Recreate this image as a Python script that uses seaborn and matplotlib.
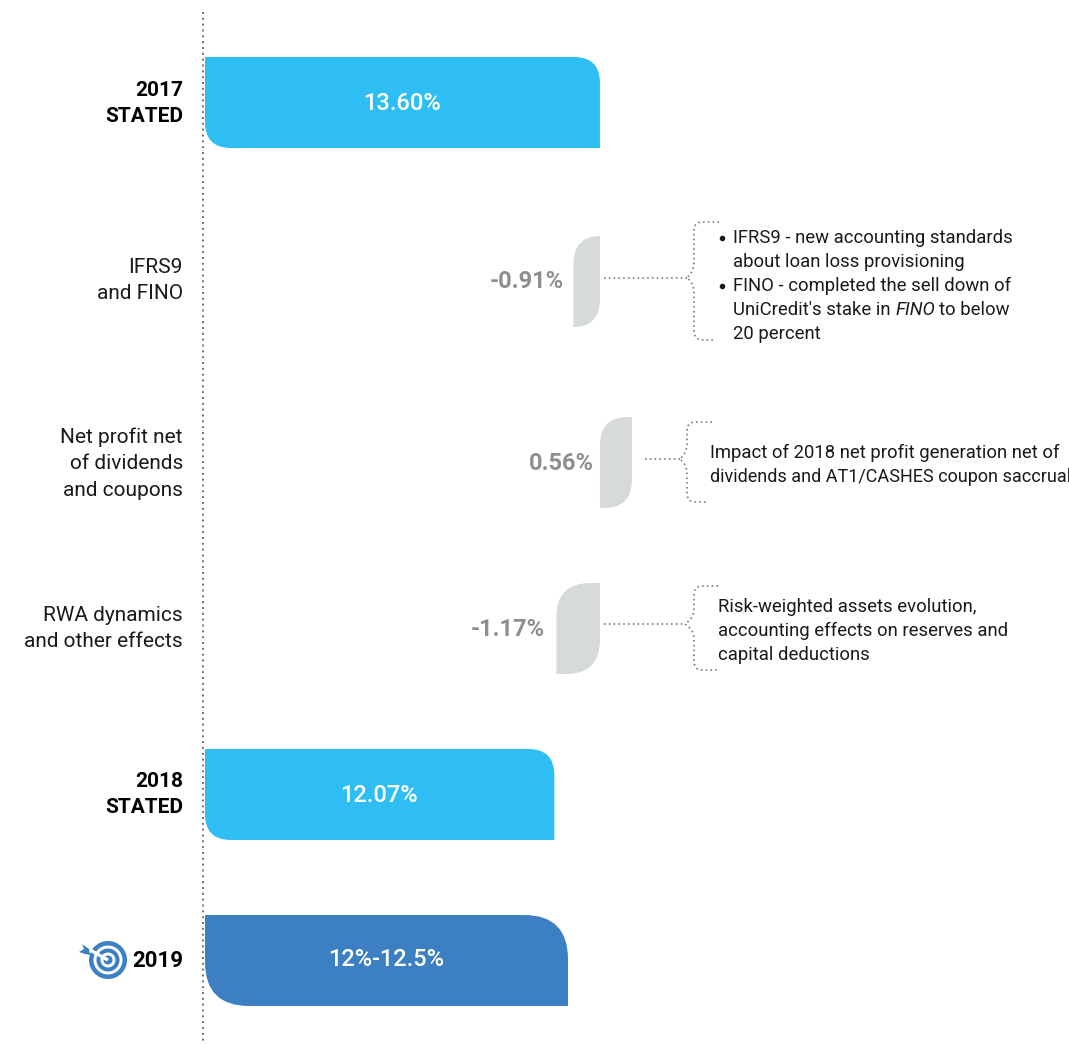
import matplotlib
matplotlib.use("Agg")
import matplotlib.pyplot as plt
import seaborn as sns
from matplotlib.path import Path
from matplotlib.patches import PathPatch, Circle, Polygon

categories = ["2017\nSTATED", "IFRS9\nand FINO", "Net profit net\nof dividends\nand coupons",
              "RWA dynamics\nand other effects", "2018\nSTATED", "2019"]
drawn_extent = [13.60, -0.91, 1.10, -1.50, 12.03, 12.50]
anchors = [0, 13.60, 13.60, 13.60, 0, 0]
value_labels = ["13.60%", "-0.91%", "0.56%", "-1.17%", "12.07%", "12%-12.5%"]
colors = ["#2FBEF3", "#D6DADB", "#D6DADB", "#D6DADB", "#2FBEF3", "#3C7FC3"]
note_1 = ["IFRS9 - new accounting standards", "about loan loss provisioning",
          "FINO - completed the sell down of", "20 percent"]
note_2 = ["Impact of 2018 net profit generation net of", "dividends and AT1/CASHES coupon saccrual"]
note_3 = ["Risk-weighted assets evolution,", "accounting effects on reserves and", "capital deductions"]

W, H = 1069, 1044
FONT = "Roboto"
PX_PER_UNIT = 29.04
sns.set_theme(style="white")
plt.rcParams["font.family"] = [FONT, "DejaVu Sans"]

rows = [102.5, 281.5, 462.5, 628.5, 794.5, 960.5]
tick_shift = [-5, -6.5, -4.5, -5.5, -5.5, -2]
radii = [26, 28, 28, 34, 26, 44]
fig = plt.figure(figsize=(W / 100, H / 100), dpi=100, facecolor="white")
ax = fig.add_axes([205 / W, 0, 1 - 205 / W, 1])
sns.barplot(x=drawn_extent, y=rows, hue=categories, hue_order=categories,
            palette=colors, saturation=1, orient="y", native_scale=True,
            width=91 / 166, legend=False, ax=ax)
ax.set_xlim(0, (W - 205) / PX_PER_UNIT)
ax.set_ylim(H, 0)
ax.set_xlabel("")
ax.set_ylabel("")
ax.set_xticks([])
ax.set_yticks([r + s for r, s in zip(rows, tick_shift)])
ax.set_yticklabels(categories, fontsize=15, color="#1a1a1a", linespacing=1.48)
ax.tick_params(axis="y", length=0, pad=16)
for i, lab in enumerate(ax.get_yticklabels()):
    if i in (0, 4, 5):
        lab.set_fontweight("bold")
        lab.set_color("black")
    if i == 5:
        lab.set_fontsize(16)
sns.despine(ax=ax, left=True, bottom=True)


def rounded(x0, x1, y0, y1, r, down_diag):
    """Rectangle with two opposite corners rounded. y grows downward."""
    rx = r / PX_PER_UNIT
    rx = min(rx, (x1 - x0))
    if down_diag:  # top-left and bottom-right rounded
        v = [(x0 + rx, y0), (x1, y0), (x1, y1 - r), (x1, y1), (x1 - rx, y1),
             (x0, y1), (x0, y0 + r), (x0, y0), (x0 + rx, y0), (x0 + rx, y0)]
        c = [Path.MOVETO, Path.LINETO, Path.LINETO, Path.CURVE3, Path.CURVE3,
             Path.LINETO, Path.LINETO, Path.CURVE3, Path.CURVE3, Path.CLOSEPOLY]
    else:  # top-right and bottom-left rounded
        v = [(x0, y0), (x1 - rx, y0), (x1, y0), (x1, y0 + r), (x1, y1),
             (x0 + rx, y1), (x0, y1), (x0, y1 - r), (x0, y0), (x0, y0)]
        c = [Path.MOVETO, Path.LINETO, Path.CURVE3, Path.CURVE3, Path.LINETO,
             Path.LINETO, Path.CURVE3, Path.CURVE3, Path.LINETO, Path.CLOSEPOLY]
    return Path(v, c)


bars = list(ax.patches)
for bar, base, r, col in zip(bars, anchors, radii, colors):
    w, y, h = bar.get_width(), bar.get_y(), bar.get_height()
    x0, x1 = sorted((base, base + w))
    bar.set_visible(False)
    ax.add_patch(PathPatch(rounded(x0, x1, y, y + h, r, col == "#D6DADB"),
                           facecolor=col, edgecolor="none", zorder=3))

# pixel-space overlay for the annotations
ov = fig.add_axes([0, 0, 1, 1], facecolor="none")
ov.set_xlim(0, W)
ov.set_ylim(H, 0)
ov.axis("off")

DOT = "#6F7172"
ov.plot([202.5, 202.5], [12, H], color=DOT, lw=1.4, ls=(0, (1, 2.0)), zorder=4)

label_x = [402, 527, 561, 508, 379, 386]
label_y = [103, 281, 463, 629, 795, 959]
for lab, x, y, col in zip(value_labels, label_x, label_y, colors):
    grey = col == "#D6DADB"
    ov.text(x, y, lab, ha="center", va="center", fontsize=17, fontweight="bold" if grey else "medium",
            color="#8C8E90" if grey else "white", zorder=5)


def bracket(stem0, tip, spine, y_top, y_mid, y_bot, end_top, end_bot):
    v = [(end_top, y_top), (spine + 8, y_top), (spine, y_top), (spine, y_top + 9),
         (spine, y_mid - 14), (spine, y_mid - 6), (tip, y_mid),
         (spine, y_mid + 6), (spine, y_mid + 14), (spine, y_bot - 9),
         (spine, y_bot), (spine + 8, y_bot), (end_bot, y_bot)]
    c = [Path.MOVETO, Path.LINETO, Path.CURVE3, Path.CURVE3,
         Path.LINETO, Path.CURVE3, Path.CURVE3,
         Path.CURVE3, Path.CURVE3, Path.LINETO,
         Path.CURVE3, Path.CURVE3, Path.LINETO]
    ov.add_patch(PathPatch(Path(v, c), fill=False, edgecolor=DOT, lw=1.15,
                           ls=(0, (1, 2.0)), zorder=4))
    ov.plot([stem0, tip], [y_mid, y_mid], color=DOT, lw=1.15, ls=(0, (1, 2.0)), zorder=4)


bracket(604, 687, 694, 222, 277.5, 340, 719, 715)
bracket(645, 680, 687, 422, 459, 502, 712, 708)
bracket(604, 685, 694, 586, 624, 670, 718, 718)

NOTE_SIZE = 13.3
NOTE = dict(fontsize=NOTE_SIZE, color="#1a1a1a", va="center", zorder=5)
for t, y in zip(note_1[:2], [238, 262]):
    ov.text(733, y, t, **NOTE)
ov.text(733, 286, note_1[2], **NOTE)
ov.text(733, 334, note_1[3], **NOTE)
ov.plot([722, 722], [238, 286], ls="none", marker="o", ms=3.0, color="#1a1a1a")

# mixed roman / italic line
fig.canvas.draw()
rend = fig.canvas.get_renderer()
x = 733
for part, style in [("UniCredit's stake in", "normal"), ("FINO", "italic"), ("to below", "normal")]:
    t = ov.text(x, 315, part, fontsize=NOTE_SIZE, color="#1a1a1a", va="baseline", style=style, zorder=5)
    x += t.get_window_extent(rend).width + 4.5

ov.text(710, 453, note_2[0], **NOTE)
ov.text(710, 477, note_2[1], **{**NOTE, "fontsize": 13.0})
for t, y in zip(note_3, [607, 631, 655]):
    ov.text(718, y, t, **NOTE)

# target icon
ICON = "#3C7FC3"
cx, cy = 108, 960
for r, col in [(19, ICON), (14.5, "white"), (11.5, ICON), (7.5, "white"), (4.5, ICON)]:
    ov.add_patch(Circle((cx, cy), r, facecolor=col, edgecolor="none", zorder=5))
ov.plot([cx, 90], [cy, 950], color="white", lw=2.4, zorder=6, solid_capstyle="butt")
ov.add_patch(Polygon([(79, 952), (84, 949), (82, 944), (89, 949), (90, 955), (85, 954)],
                     facecolor=ICON, edgecolor="none", zorder=7))

fig.savefig("out.png", dpi=100, facecolor="white")
